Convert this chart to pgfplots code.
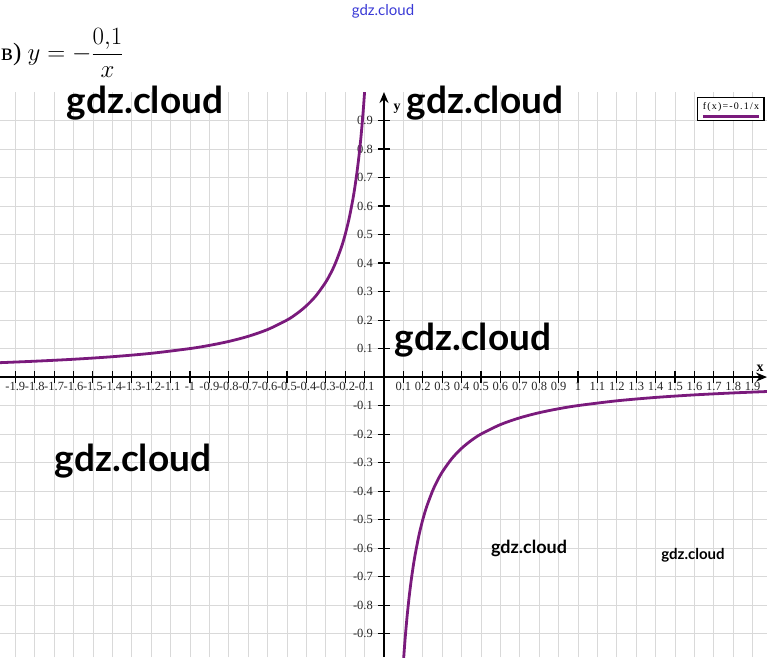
\documentclass[border=0pt]{standalone}
\usepackage{pgfplots}
\pgfplotsset{compat=1.18}
\usepackage{fontspec}
\setmainfont{Liberation Serif}
\newfontfamily\lato{Lato}
\newfontfamily\legfont[LetterSpace=12]{Liberation Serif}
\usetikzlibrary{arrows.meta}
\definecolor{curve}{HTML}{7A1A7C}
\definecolor{wmblue}{HTML}{3A3AD6}
\begin{document}
\begin{tikzpicture}
\useasboundingbox (0,0) rectangle (767pt,657pt);
\begin{axis}[
  at={(0pt,0pt)}, anchor=south west,
  scale only axis, width=767pt, height=565pt,
  xmin=-1.979, xmax=1.974, ymin=-0.982, ymax=1.0,
  axis lines=middle,
  axis line style={black, line width=1.8pt},
  x axis line style={-{Stealth[length=11pt,width=9pt]}},
  y axis line style={-{Stealth[length=11pt,width=9pt]}},
  grid=major,
  grid style={gray!30, line width=0.7pt},
  tick align=center,
  major tick length=12pt,
  tick style={black, line width=1.1pt},
  xtick={-1.9,-1.8,-1.7,-1.6,-1.5,-1.4,-1.3,-1.2,-1.1,-1,-0.9,-0.8,-0.7,-0.6,-0.5,-0.4,-0.3,-0.2,-0.1,0.1,0.2,0.3,0.4,0.5,0.6,0.7,0.8,0.9,1,1.1,1.2,1.3,1.4,1.5,1.6,1.7,1.8,1.9},
  xticklabels={-1.9,-1.8,-1.7,-1.6,-1.5,-1.4,-1.3,-1.2,-1.1,-1,-0.9,-0.8,-0.7,-0.6,-0.5,-0.4,-0.3,-0.2,-0.1,0.1,0.2,0.3,0.4,0.5,0.6,0.7,0.8,0.9,1,1.1,1.2,1.3,1.4,1.5,1.6,1.7,1.8,1.9},
  ytick={-0.9,-0.8,-0.7,-0.6,-0.5,-0.4,-0.3,-0.2,-0.1,0.1,0.2,0.3,0.4,0.5,0.6,0.7,0.8,0.9},
  yticklabels={-0.9,-0.8,-0.7,-0.6,-0.5,-0.4,-0.3,-0.2,-0.1,0.1,0.2,0.3,0.4,0.5,0.6,0.7,0.8,0.9},
  ticklabel style={font=\fontsize{12.5}{13}\selectfont, text=black!85},
  xticklabel style={anchor=north, inner sep=1pt, yshift=2pt},
  yticklabel style={anchor=east, inner sep=1pt, xshift=-4pt},
  xlabel={\textbf{x}}, ylabel={\textbf{y}},
  xlabel style={at={(rel axis cs:0.991,0.4955)}, anchor=south, font=\fontsize{14}{14}\selectfont, inner sep=5pt},
  ylabel style={at={(rel axis cs:0.5,0.985)}, anchor=north west, font=\fontsize{14}{14}\selectfont, inner sep=3pt, xshift=7pt, rotate=0},
  legend plot pos=none,
  legend style={at={(rel axis cs:0.997,0.991)}, anchor=north east, draw=black, line width=1.3pt, fill=white,
    font=\legfont\fontsize{10}{10}\selectfont, inner sep=3pt},
]
\addplot[curve, line width=2.8pt, smooth, forget plot] coordinates {
(-1.979,0.0505) (-1.8,0.0556) (-1.6,0.0625) (-1.4,0.0714) (-1.2,0.0833)
(-1.0,0.1) (-0.9,0.1111) (-0.8,0.125) (-0.7,0.1429) (-0.6,0.1667)
(-0.5,0.2) (-0.45,0.2222) (-0.4,0.25) (-0.35,0.2857) (-0.3,0.3333)
(-0.27,0.3704) (-0.25,0.4) (-0.22,0.4545) (-0.2,0.5) (-0.18,0.5556)
(-0.16,0.625) (-0.15,0.6667) (-0.14,0.7143) (-0.13,0.7692) (-0.12,0.8333)
(-0.115,0.8696) (-0.11,0.9091) (-0.105,0.9524) (-0.1,1.0)
};
\addplot[curve, line width=2.8pt, smooth] coordinates {
(0.1,-1.0) (0.105,-0.9524) (0.11,-0.9091) (0.115,-0.8696) (0.12,-0.8333)
(0.13,-0.7692) (0.14,-0.7143) (0.15,-0.6667) (0.16,-0.625) (0.18,-0.5556)
(0.2,-0.5) (0.22,-0.4545) (0.25,-0.4) (0.27,-0.3704) (0.3,-0.3333)
(0.35,-0.2857) (0.4,-0.25) (0.45,-0.2222) (0.5,-0.2) (0.6,-0.1667)
(0.7,-0.1429) (0.8,-0.125) (0.9,-0.1111) (1.0,-0.1) (1.2,-0.0833)
(1.4,-0.0714) (1.6,-0.0625) (1.8,-0.0556) (1.974,-0.0507)
};
\addlegendentry{\begin{tabular}{@{}c@{}}f(x)=-0.1/x\\[-2pt]\textcolor{curve}{\rule{56pt}{2.8pt}}\end{tabular}}
\end{axis}
\node[anchor=west, inner sep=0pt, font=\fontsize{25}{27}\selectfont] at (1pt,604pt) {в) $\displaystyle y=-\frac{0{,}1}{x}$};
\begin{scope}[every node/.style={inner sep=0pt}]
\node[font=\lato\bfseries\fontsize{37}{37}\selectfont] at (145pt,554pt) {gdz.cloud};
\node[font=\lato\bfseries\fontsize{37}{37}\selectfont] at (485pt,554pt) {gdz.cloud};
\node[font=\lato\bfseries\fontsize{37}{37}\selectfont] at (473pt,317pt) {gdz.cloud};
\node[font=\lato\bfseries\fontsize{37}{37}\selectfont] at (133pt,196pt) {gdz.cloud};
\node[font=\lato\bfseries\fontsize{18}{18}\selectfont] at (529pt,109pt) {gdz.cloud};
\node[font=\lato\bfseries\fontsize{15}{15}\selectfont] at (693pt,102pt) {gdz.cloud};
\node[font=\lato\fontsize{15}{15}\selectfont, text=wmblue] at (383pt,646pt) {gdz.cloud};
\end{scope}
\end{tikzpicture}
\end{document}
